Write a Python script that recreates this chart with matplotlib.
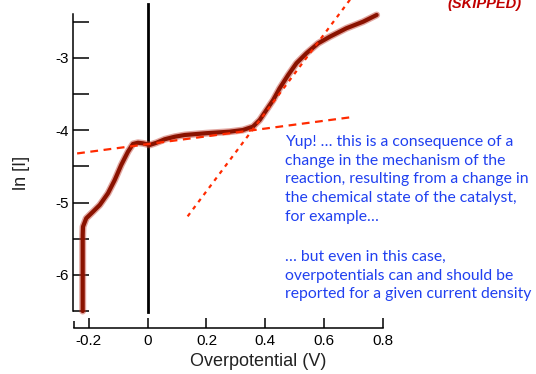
import matplotlib
matplotlib.use("Agg")
import matplotlib.pyplot as plt

eta = [-0.221, -0.221, -0.220, -0.209, -0.186, -0.163, -0.135, -0.112, -0.090, -0.067,
       -0.050, -0.033, -0.016, 0.007, 0.030, 0.058, 0.092, 0.126, 0.2, 0.279,
       0.324, 0.358, 0.381, 0.404, 0.427, 0.449, 0.478, 0.506, 0.540, 0.580,
       0.620, 0.676, 0.733, 0.779]
lnI = [-6.5, -5.45, -5.333, -5.217, -5.126, -5.033, -4.871, -4.687, -4.480, -4.296,
       -4.189, -4.172, -4.180, -4.203, -4.172, -4.124, -4.089, -4.065, -4.04, -4.019,
       -3.996, -3.950, -3.858, -3.719, -3.581, -3.419, -3.235, -3.073, -2.935, -2.797,
       -2.705, -2.589, -2.498, -2.405]

# tafel fits
fit1_x = [-0.24, 0.69]
fit1_y = [-4.32, -3.82]
fit2_x = [0.136, 0.70]
fit2_y = [-5.19, -2.13]

xticks = [-0.2, 0, 0.2, 0.4, 0.6, 0.8]
xticklabels = ["-0.2", "0", "0.2", "0.4", "0.6", "0.8"]
yticks = [-6, -5, -4, -3]
yminor = [-6.5, -5.5, -4.5, -3.5, -2.5]

note1 = ("Yup! \u2026 this is a consequence of a\n"
         "change in the mechanism of the\n"
         "reaction, resulting from a change in\n"
         "the chemical state of the catalyst,\n"
         "for example\u2026")
note2 = ("\u2026 but even in this case,\n"
         "overpotentials can and should be\n"
         "reported for a given current density")

plt.rcParams['font.family'] = ['Liberation Sans', 'DejaVu Sans']
plt.rcParams['axes.unicode_minus'] = False

fig = plt.figure(figsize=(5.36, 3.74), dpi=100)
ax = fig.add_axes([73/536, 46/374, 1 - 73/536, 1 - 46/374])
ax.set_xlim(-0.254, 1.321)
ax.set_ylim(-6.734, -2.198)

# black zero line
ax.plot([0, 0], [-6.51, -2.26], color='black', lw=2.0, zorder=2)

# curve with soft edge
ax.plot(eta, lnI, color='#c0392b', lw=5.0, alpha=0.45, solid_capstyle='round', zorder=3)
ax.plot(eta, lnI, color='#8a1200', lw=3.0, solid_capstyle='round', zorder=4)

ax.plot(fit1_x, fit1_y, color='#ff2a00', lw=1.6, dashes=(3.5, 2.5), zorder=5)
ax.plot(fit2_x, fit2_y, color='#ff2a00', lw=1.6, dashes=(1.8, 2.2), zorder=5)

for s in ['top', 'right']:
    ax.spines[s].set_visible(False)
ax.spines['left'].set_bounds(-6.5, -2.39)
ax.spines['bottom'].set_bounds(-0.25, 0.8)
ax.spines['left'].set_linewidth(1.1)
ax.spines['bottom'].set_linewidth(1.1)

ax.set_xticks(xticks)
ax.set_xticklabels(xticklabels)
ax.set_xticks([-0.25], minor=True)
ax.set_yticks(yticks)
ax.set_yticks(yminor, minor=True)
ax.tick_params(axis='y', which='both', direction='in', length=11.5, width=1.1,
               labelsize=11, pad=3)
ax.tick_params(axis='x', which='both', direction='in', length=7.5, width=1.1,
               labelsize=11, pad=4)
ax.tick_params(axis='x', which='minor', length=5)

fig.text(22/536, 1 - 173/374, "ln [I]", rotation=90, ha='center', va='center',
         fontsize=13, color='#222222')
fig.text(258/536, 1 - 362/374, "Overpotential (V)", ha='center', va='center',
         fontsize=13, color='#222222')

fig.text(285/536, 1 - 135/374, note1, ha='left', va='top', fontsize=11.3,
         color='#2040f0', family=['Lato', 'DejaVu Sans'], linespacing=1.43)
fig.text(285/536, 1 - 250/374, note2, ha='left', va='top', fontsize=11.3,
         color='#2040f0', family=['Lato', 'DejaVu Sans'], linespacing=1.43)

fig.text(447/536, 1 - 8/374, "(SKIPPED)", ha='left', va='baseline', fontsize=10.5,
         fontweight='bold', fontstyle='italic', color='#c00000')

fig.savefig("out.png", dpi=100)
